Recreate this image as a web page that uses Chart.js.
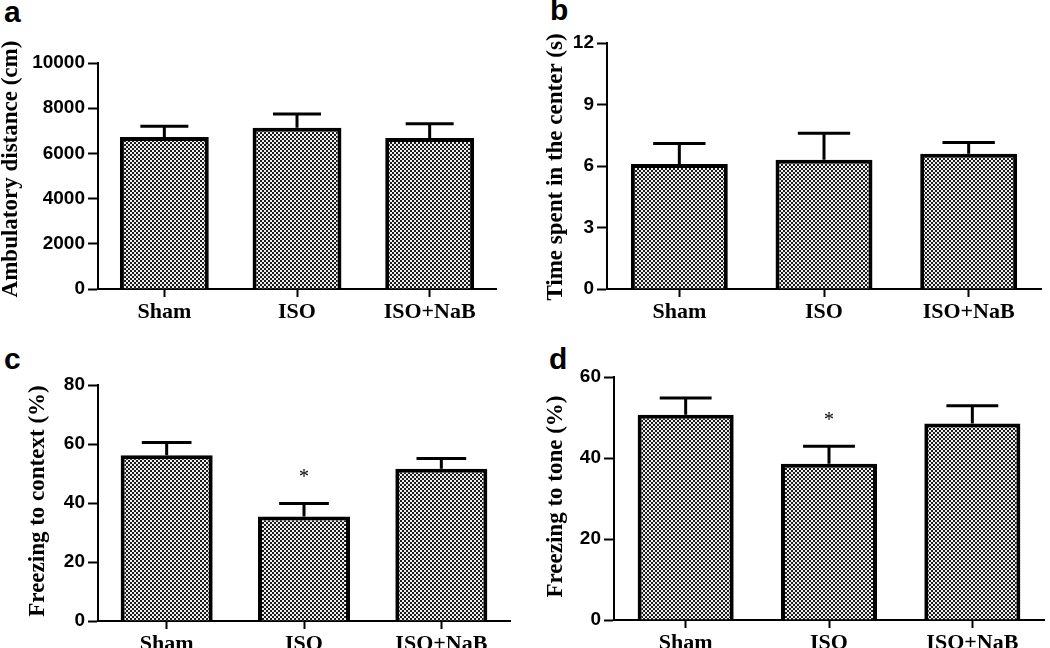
<!DOCTYPE html>
<html>
<head>
<meta charset="utf-8">
<script src="https://cdn.jsdelivr.net/npm/chart.js@4.4.1/dist/chart.umd.min.js"></script>
<style>
  html, body { margin: 0; padding: 0; background: #fff; overflow: hidden; }
  body { width: 1050px; height: 648px; position: relative; }
  .panel { position: absolute; }
  .letter { position: absolute; font: bold 30px 'Liberation Sans', Arial, sans-serif; line-height: 1; color: #000; }
</style>
</head>
<body>
<div class="letter" style="left:4px;top:-3px">a</div>
<div class="letter" style="left:550px;top:-5px">b</div>
<div class="letter" style="left:4px;top:344px">c</div>
<div class="letter" style="left:549px;top:344px">d</div>

<div class="panel" style="left:0;top:0;width:525px;height:324px"><canvas id="chartA"></canvas></div>
<div class="panel" style="left:525px;top:0;width:525px;height:324px"><canvas id="chartB"></canvas></div>
<div class="panel" style="left:0;top:324px;width:525px;height:360px"><canvas id="chartC"></canvas></div>
<div class="panel" style="left:525px;top:324px;width:525px;height:360px"><canvas id="chartD"></canvas></div>

<script>
// groups on the x axis
const groups = ['Sham', 'ISO', 'ISO+NaB'];

// a - open field, ambulatory distance (mean, SEM)
const ambulatoryMean = [6730, 7140, 6680];
const ambulatorySem = [470, 600, 630];
const ambulatoryTicks = [0, 2000, 4000, 6000, 8000, 10000];

// b - time spent in the center (s)
const centerTimeMean = [6.1, 6.3, 6.6];
const centerTimeSem = [1.0, 1.3, 0.55];
const centerTimeTicks = [0, 3, 6, 9, 12];

// c - freezing to context (%)
const contextMean = [56.2, 35.4, 51.6];
const contextSem = [4.3, 4.4, 3.5];
const contextTicks = [0, 20, 40, 60, 80];
const contextStars = ['', '*', ''];

// d - freezing to tone (%)
const toneMean = [50.7, 38.6, 48.5];
const toneSem = [4.1, 4.3, 4.4];
const toneTicks = [0, 20, 40, 60];
const toneStars = ['', '*', ''];

const SANS = "'Liberation Sans', Arial, sans-serif";
const SERIF = "'Liberation Serif', 'Times New Roman', serif";

// dithered grey fill like the printed figure
function makeDotFill() {
    const pc = document.createElement('canvas');
    pc.width = 4;
    pc.height = 4;
    const g = pc.getContext('2d');
    g.fillStyle = '#eeeeee';
    g.fillRect(0, 0, 4, 4);
    g.fillStyle = '#1c1c1c';
    g.fillRect(0, 0, 2, 2);
    g.fillRect(2, 2, 2, 2);
    return g.createPattern(pc, 'repeat');
}
const dotFill = makeDotFill();

function makePanel(id, p) {
    const ctx = document.getElementById(id);

    // error bars, asterisks and the rotated y title
    const marks = {
        id: 'marks',
        afterDatasetsDraw(chart) {
            const c = chart.ctx;
            const y = chart.scales.y;
            const meta = chart.getDatasetMeta(0);
            c.save();
            c.strokeStyle = '#000';
            c.fillStyle = '#000';
            c.lineWidth = 3;
            meta.data.forEach((bar, i) => {
                const top = y.getPixelForValue(p.mean[i] + p.sem[i]);
                const half = bar.width * 0.27;
                c.beginPath();
                c.moveTo(bar.x, bar.y);
                c.lineTo(bar.x, top);
                c.moveTo(bar.x - half, top);
                c.lineTo(bar.x + half, top);
                c.stroke();
                if (p.stars && p.stars[i]) {
                    c.font = '20px ' + SERIF;
                    c.textAlign = 'center';
                    c.textBaseline = 'middle';
                    c.fillText(p.stars[i], bar.x, top - 26);
                }
            });
            const area = chart.chartArea;
            c.translate(p.titleX, (area.top + area.bottom) / 2 + p.titleShift);
            c.rotate(-Math.PI / 2);
            c.font = 'bold 23px ' + SERIF;
            c.textAlign = 'center';
            c.textBaseline = 'middle';
            c.fillText(p.title, 0, 0);
            c.restore();
        }
    };

    new Chart(ctx, {
        type: 'bar',
        data: {
            labels: groups,
            datasets: [{
                data: p.mean,
                backgroundColor: dotFill,
                borderColor: '#000',
                borderWidth: 4,
                barPercentage: 0.67,
                categoryPercentage: 1
            }]
        },
        options: {
            responsive: true,
            maintainAspectRatio: false,
            animation: false,
            events: [],
            layout: { padding: p.pad },
            plugins: {
                legend: { display: false },
                tooltip: { enabled: false }
            },
            scales: {
                x: {
                    afterFit: s => { s.height = 35; },
                    border: { display: true, color: '#000', width: 2 },
                    grid: {
                        offset: false,
                        drawOnChartArea: false,
                        drawTicks: true,
                        tickLength: 8,
                        tickWidth: 2,
                        color: '#000'
                    },
                    ticks: {
                        color: '#000',
                        padding: 2,
                        maxRotation: 0,
                        font: { family: SERIF, size: 22, weight: 'bold' }
                    }
                },
                y: {
                    min: p.ticks[0],
                    max: p.ticks[p.ticks.length - 1],
                    afterFit: s => { s.width = p.axisW; },
                    afterBuildTicks: s => { s.ticks = p.ticks.map(v => ({ value: v })); },
                    border: { display: true, color: '#000', width: 2 },
                    grid: {
                        drawOnChartArea: false,
                        drawTicks: true,
                        tickLength: 10,
                        tickWidth: 2,
                        color: '#000'
                    },
                    ticks: {
                        color: '#000',
                        padding: 3,
                        callback: v => String(v),
                        font: { family: SANS, size: 19, weight: 'bold' }
                    }
                }
            }
        },
        plugins: [marks]
    });
}

makePanel('chartA', {
    mean: ambulatoryMean, sem: ambulatorySem, ticks: ambulatoryTicks,
    title: 'Ambulatory distance (cm)', titleX: 11, titleShift: -7,
    axisW: 98, pad: { left: 0, top: 63, right: 29, bottom: 0 }
});

makePanel('chartB', {
    mean: centerTimeMean, sem: centerTimeSem, ticks: centerTimeTicks,
    title: 'Time spent in the center (s)', titleX: 31, titleShift: 1,
    axisW: 82, pad: { left: 0, top: 43, right: 9, bottom: 0 }
});

makePanel('chartC', {
    mean: contextMean, sem: contextSem, ticks: contextTicks, stars: contextStars,
    title: 'Freezing to context (%)', titleX: 38, titleShift: -2,
    axisW: 98, pad: { left: 0, top: 61, right: 15, bottom: 28 }
});

makePanel('chartD', {
    mean: toneMean, sem: toneSem, ticks: toneTicks, stars: toneStars,
    title: 'Freezing to tone (%)', titleX: 31, titleShift: -2,
    axisW: 89, pad: { left: 0, top: 53, right: 6, bottom: 29 }
});
</script>
</body>
</html>
